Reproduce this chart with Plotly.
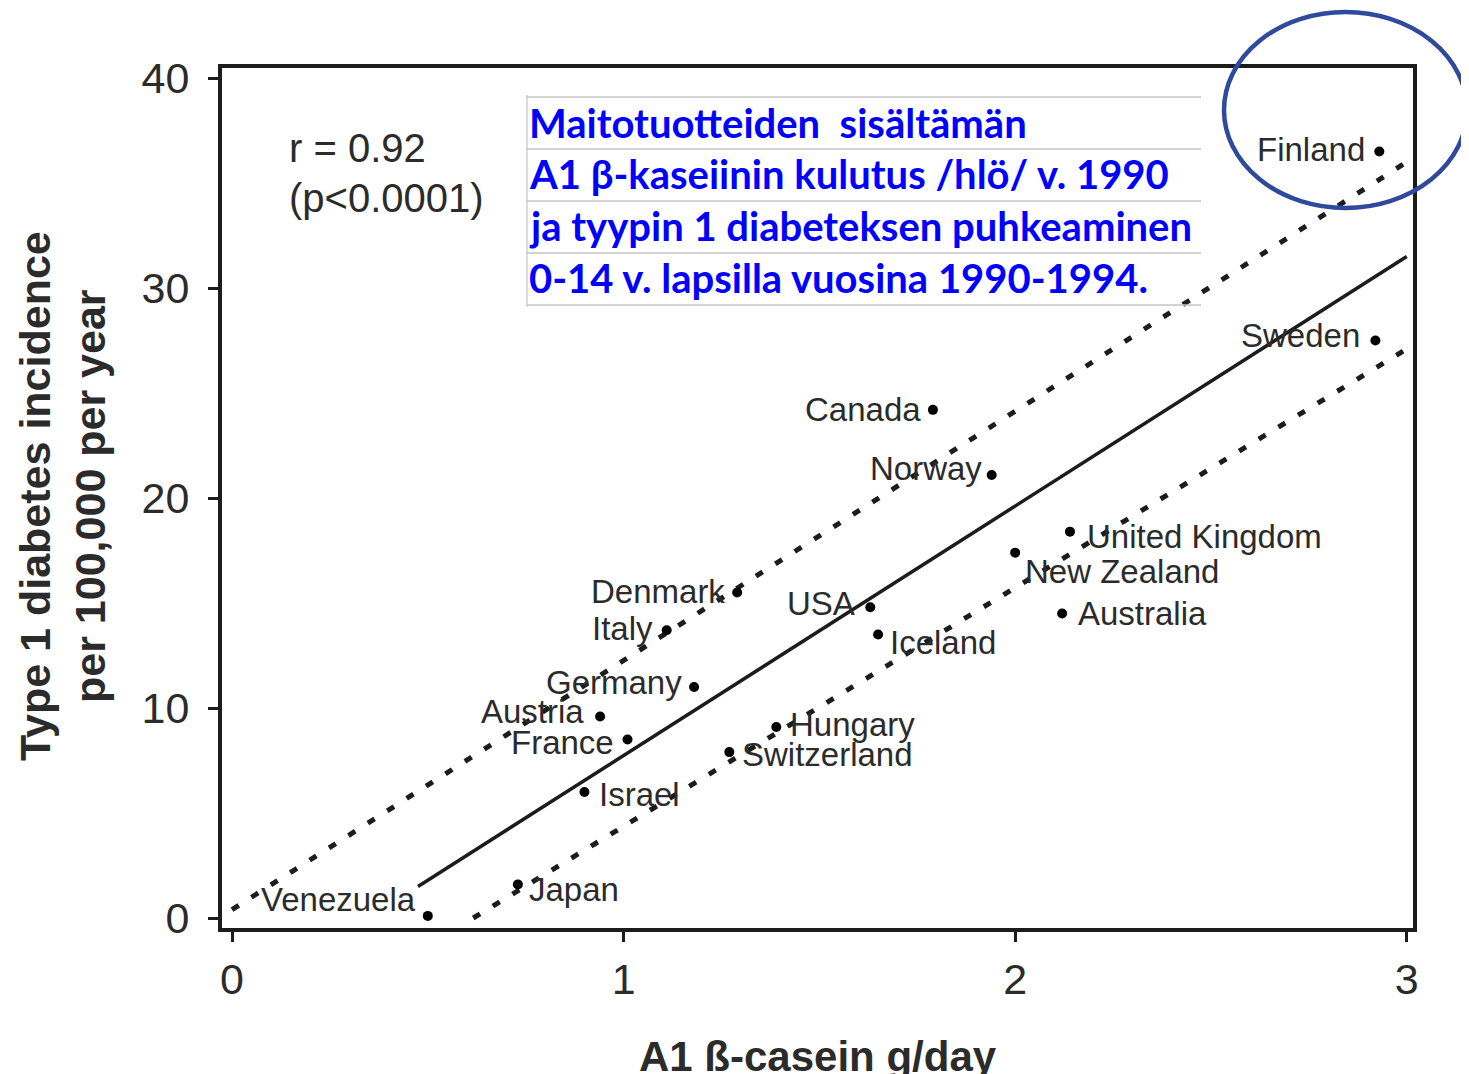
import plotly.graph_objects as go

# ---------------- data ----------------
countries = ["Finland", "Sweden", "Canada", "Norway", "United Kingdom", "New Zealand",
             "Australia", "USA", "Iceland", "Denmark", "Italy", "Germany", "Austria",
             "France", "Hungary", "Switzerland", "Israel", "Japan", "Venezuela"]
casein = [2.93, 2.92, 1.79, 1.94, 2.14, 2.00, 2.12, 1.63, 1.65, 1.29, 1.11, 1.18, 0.94,
          1.01, 1.39, 1.27, 0.90, 0.73, 0.50]
incidence = [36.5, 27.5, 24.2, 21.1, 18.4, 17.4, 14.5, 14.8, 13.5, 15.5, 13.7, 11.0, 9.6,
             8.5, 9.1, 7.9, 6.0, 1.6, 0.1]

fit_x = [0.475, 3.0]
fit_y = [1.5, 31.5]
upper_x = [0.0, 3.0]
upper_y = [0.4, 36.0]
lower_x = [0.616, 3.0]
lower_y = [0.0, 27.1]

x_ticks = [0, 1, 2, 3]
y_ticks = [0, 10, 20, 30, 40]

stats_lines = ["r = 0.92", "(p<0.0001)"]
title_lines = ["Maitotuotteiden  sisältämän",
               "A1 β-kaseiinin kulutus /hlö/ v. 1990",
               "ja tyypin 1 diabeteksen puhkeaminen",
               "0-14 v. lapsilla vuosina 1990-1994."]
y_title_lines = ["Type 1 diabetes incidence", "per 100,000 per year"]
x_title = "A1 ß-casein g/day"

# ---------------- layout geometry ----------------
W, H = 1469, 1074
OFF = 8  # page body margin offset
PL, PT, PR, PB = 222, 68, 1413, 928  # plot area on the page
L, T = PL - OFF, PT - OFF
R = W - (PR - OFF)
B = H - (PB - OFF)
PW, PH = PR - PL, PB - PT


def px(x):
    return (x - PL) / PW


def py(y):
    return (PB - y) / PH


# label placement (anchor, xshift, yshift) in pixels
label_pos = {
    "Finland": ("right", -12, 2), "Sweden": ("right", -13, 5), "Canada": ("right", -10, 0),
    "Norway": ("right", -8, 6), "United Kingdom": ("left", 15, -5),
    "New Zealand": ("left", 8, -19), "Australia": ("left", 14, 0), "USA": ("right", -13, 4),
    "Iceland": ("left", 10, -8), "Denmark": ("right", -10, 1), "Italy": ("right", -12, 2),
    "Germany": ("right", -10, 5), "Austria": ("right", -14, 5), "France": ("right", -12, -3),
    "Hungary": ("left", 12, 2), "Switzerland": ("left", 11, -2), "Israel": ("left", 13, -2),
    "Japan": ("left", 9, -5), "Venezuela": ("right", -10, 16),
}

ink = "#1c1c1c"
txt = "#2b2b2b"
sans = "Liberation Sans, Arial, sans-serif"
fig = go.Figure()

dotted = dict(color=ink, width=5, dash="8px,15px")
fig.add_trace(go.Scatter(x=upper_x, y=upper_y, mode="lines", line=dotted, hoverinfo="skip"))
fig.add_trace(go.Scatter(x=lower_x, y=lower_y, mode="lines", line=dotted, hoverinfo="skip"))
fig.add_trace(go.Scatter(x=fit_x, y=fit_y, mode="lines",
                         line=dict(color=ink, width=3.5), hoverinfo="skip"))
fig.add_trace(go.Scatter(x=casein, y=incidence, mode="markers", text=countries,
                         marker=dict(color="black", size=10), cliponaxis=False))

annotations = []
for c, xv, yv in zip(countries, casein, incidence):
    anc, xs, ys = label_pos[c]
    annotations.append(dict(x=xv, y=yv, xref="x", yref="y", text=c, showarrow=False,
                            xanchor=anc, yanchor="middle", xshift=xs, yshift=ys,
                            font=dict(family=sans, size=33, color=txt)))

for t, yc in zip(stats_lines, [148, 198]):
    annotations.append(dict(x=px(287), y=py(yc), xref="paper", yref="paper", text=t,
                            showarrow=False, xanchor="left", yanchor="middle",
                            font=dict(family=sans, size=40, color=txt)))

for t, yc in zip(title_lines, [123, 174, 226, 278]):
    annotations.append(dict(x=px(527), y=py(yc), xref="paper", yref="paper", text="<b>" + t + "</b>",
                            showarrow=False, xanchor="left", yanchor="middle", align="left",
                            font=dict(family="Lato, Open Sans, sans-serif", size=40, color="#0000ff")))

for t, xc in zip(y_title_lines, [35, 90]):
    annotations.append(dict(x=px(xc), y=py(496), xref="paper", yref="paper",
                            text="<b>" + t + "</b>", showarrow=False, textangle=-90,
                            xanchor="center", yanchor="middle",
                            font=dict(family=sans, size=43, color=txt)))

annotations.append(dict(x=px(818), y=py(1056), xref="paper", yref="paper",
                        text="<b>" + x_title + "</b>", showarrow=False,
                        xanchor="center", yanchor="middle",
                        font=dict(family=sans, size=42, color=txt)))

shapes = []
for yl in [97, 149, 201, 253, 305]:
    shapes.append(dict(type="line", xref="paper", yref="paper", x0=px(527), x1=px(1201),
                       y0=py(yl), y1=py(yl), line=dict(color="#c4c4c4", width=1.5)))
shapes.append(dict(type="line", xref="paper", yref="paper", x0=px(527), x1=px(527),
                   y0=py(95), y1=py(307), line=dict(color="#c4c4c4", width=1.2)))
shapes.append(dict(type="circle", xref="paper", yref="paper", x0=px(1224), x1=px(1467),
                   y0=py(208), y1=py(12), line=dict(color="#2f4a9c", width=4.5)))

axis_common = dict(showline=True, linewidth=4, linecolor=ink, mirror=True, showgrid=False,
                   zeroline=False, ticks="outside", ticklen=10, tickwidth=3, tickcolor=ink,
                   tickfont=dict(family=sans, size=43, color=txt))

fig.update_layout(
    width=W, height=H, autosize=False,
    margin=dict(l=L, r=R, t=T, b=B),
    plot_bgcolor="white", paper_bgcolor="white",
    showlegend=False,
    xaxis=dict(range=[-0.0256, 3.016], tickvals=x_ticks, ticklabelstandoff=0, **axis_common),
    yaxis=dict(range=[-0.476, 40.48], tickvals=y_ticks, ticklabelstandoff=10, **axis_common),
    annotations=annotations, shapes=shapes,
)

fig.write_html("out.html")
